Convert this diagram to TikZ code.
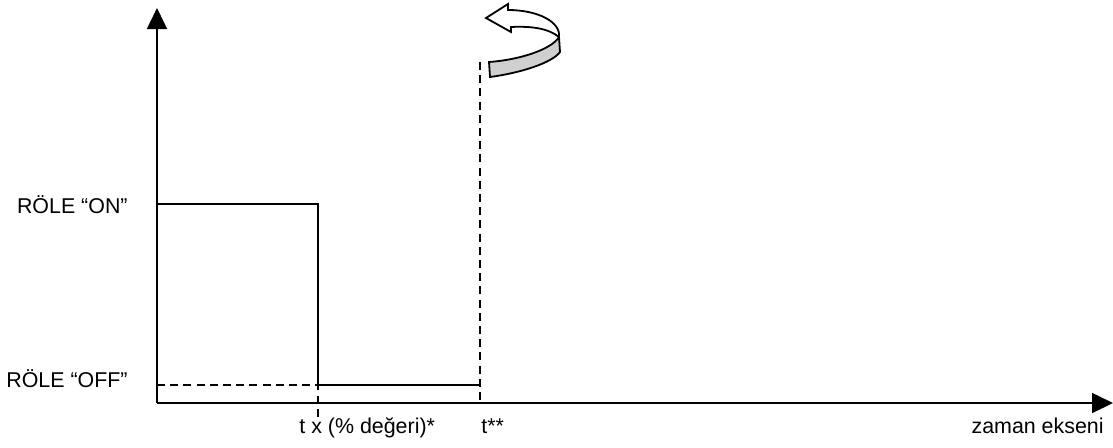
\documentclass[tikz,border=0pt]{standalone}
\usepackage{fontspec}
\setmainfont{Liberation Sans}
\usetikzlibrary{arrows.meta,positioning}
\definecolor{BandGray}{HTML}{D0D0D0}

\tikzset{
  axis/.style={line width=0.8pt, -{Triangle[length=10.5pt,width=10pt]}},
  signal/.style={line width=0.8pt},
  guide/.style={line width=0.8pt, dash pattern=on 4pt off 2.6pt},
  lbl/.style={font=\fontsize{10.7}{12.8}\selectfont, inner sep=0pt},
}

\begin{document}
\begin{tikzpicture}[x=0.5pt,y=-0.5pt]
  \useasboundingbox (0,0) rectangle (1113,447);
  % axes
  \coordinate (origin) at (157,403);
  \coordinate (ytip) at (157,8);
  \coordinate (xtip) at (1113,403);
  \draw[axis] (origin) -- (ytip);
  \draw[axis] (origin) -- (xtip);
  % relay levels
  \coordinate (on0) at (157,204);
  \coordinate (on1) at (318,204);
  \coordinate (off0) at (157,385);
  \coordinate (off1) at (318,385);
  \coordinate (off2) at (480,385);
  \coordinate (txfoot) at (318,417);
  \coordinate (ttop) at (480,62);
  \coordinate (tfoot) at (480,403);
  \draw[signal] (on0) -- (on1) -- (off1) -- (off2);
  \draw[guide] (off0) -- (off1) -- (txfoot);
  \draw[guide] (ttop) -- (tfoot);
  % labels
  \node[lbl, anchor=base east] (onlbl) at (128,213) {RÖLE “ON”};
  \node[lbl, anchor=base east] (offlbl) at (128,387) {RÖLE “OFF”};
  \node[lbl, anchor=base west] (txlbl) at (299,433) {t x (\% değeri)*};
  \node[lbl, anchor=base west] (ttlbl) at (481,433) {t**};
  \node[lbl, anchor=base east] (xlbl) at (1104,433) {zaman ekseni};
  % rotation arrow
  \draw[line width=0.9pt, fill=white, line join=miter]
    (486,18) -- (508,4) -- (508,10)
    .. controls (538,10) and (561,22) .. (559,37)
    .. controls (548,28) and (530,26) .. (511,27) -- (511,32) -- cycle;
  \draw[line width=0.9pt, fill=BandGray]
    (489,62) .. controls (518,60) and (551,50) .. (559,37)
    -- (560,52) .. controls (552,63) and (520,73) .. (490,77) -- cycle;
\end{tikzpicture}
\end{document}
